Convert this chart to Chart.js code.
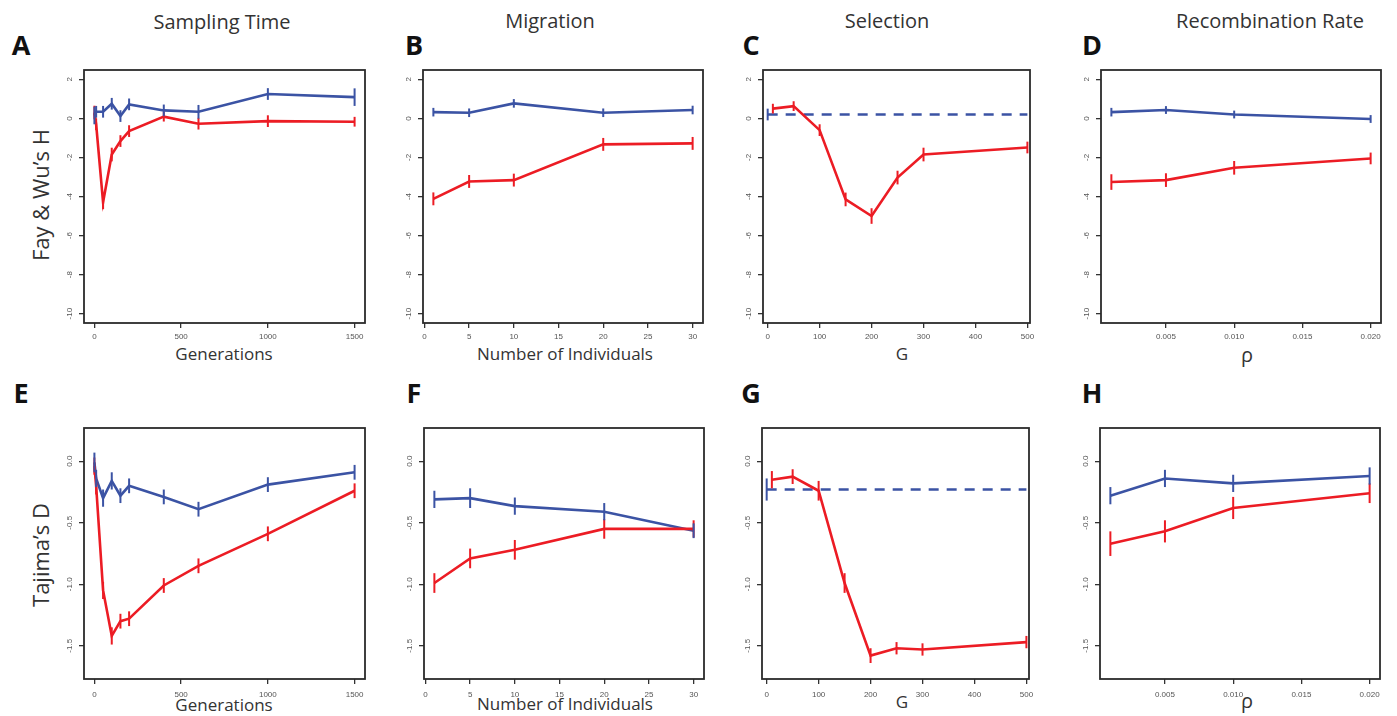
<!DOCTYPE html>
<html><head><meta charset="utf-8">
<script src="https://cdn.jsdelivr.net/npm/chart.js@4.4.0/dist/chart.umd.min.js"></script>
<style>
html,body{margin:0;padding:0;background:#fff;width:1397px;height:716px;overflow:hidden;position:relative;font-family:'Open Sans',sans-serif}
canvas{position:absolute}
.t{position:absolute;white-space:nowrap;color:#333;transform:translate(-50%,-50%);line-height:1}
.hdr{font-size:20px}
.let{font-size:27px;font-weight:700;color:#111}
.row{font-size:22px;transform:translate(-50%,-50%) rotate(-90deg)}
.xl{font-size:17px}
.rho{font-size:20px}
</style></head><body>
<div class="t hdr" style="left:222px;top:22px">Sampling Time</div>
<div class="t hdr" style="left:550px;top:21px">Migration</div>
<div class="t hdr" style="left:887px;top:21px">Selection</div>
<div class="t hdr" style="left:1270px;top:21px">Recombination Rate</div>
<div class="t let" style="left:21px;top:44px">A</div>
<div class="t let" style="left:414px;top:44px">B</div>
<div class="t let" style="left:751px;top:44px">C</div>
<div class="t let" style="left:1092px;top:44px">D</div>
<div class="t let" style="left:21px;top:392px">E</div>
<div class="t let" style="left:414px;top:392px">F</div>
<div class="t let" style="left:751px;top:392px">G</div>
<div class="t let" style="left:1092px;top:392px">H</div>
<div class="t row" style="left:40px;top:195px">Fay &amp; Wu’s H</div>
<div class="t row" style="left:40px;top:555px">Tajima’s D</div>
<div class="t xl" style="left:224px;top:353px">Generations</div>
<div class="t xl" style="left:565px;top:353px">Number of Individuals</div>
<div class="t xl" style="left:902px;top:353px">G</div>
<div class="t rho" style="left:1247px;top:355px">ρ</div>
<div class="t xl" style="left:224px;top:704px">Generations</div>
<div class="t xl" style="left:565px;top:703px">Number of Individuals</div>
<div class="t xl" style="left:902px;top:701px">G</div>
<div class="t rho" style="left:1247px;top:701px">ρ</div>
<script>
// ---------- categories (x values) ----------
const genX = [0, 10, 50, 100, 150, 200, 400, 600, 1000, 1500];
const indX = [1, 5, 10, 20, 30];
const selX = [10, 50, 100, 150, 200, 250, 300, 500];
const selBaseX = [0, 500];
const rhoX = [0.001, 0.005, 0.010, 0.020];

// ---------- tick labels ----------
const genTicks = [0, 500, 1000, 1500];
const indTicks = [0, 5, 10, 15, 20, 25, 30];
const selTicks = [0, 100, 200, 300, 400, 500];
const rhoTicks = [0.005, 0.010, 0.015, 0.020];
const fwTicks = [-10, -8, -6, -4, -2, 0, 2];
const tdTicks = [-1.5, -1.0, -0.5, 0.0];

// ---------- Fay & Wu's H ----------
const A_blue = [0.15, 0.34, 0.34, 0.75, 0.12, 0.72, 0.41, 0.34, 1.25, 1.09];
const A_blueErr = [0.45, 0.3, 0.3, 0.3, 0.3, 0.3, 0.3, 0.35, 0.3, 0.45];
const A_red = [0.3, -0.3, -4.3, -1.85, -1.16, -0.65, 0.09, -0.27, -0.14, -0.17];
const A_redErr = [0.35, 0.3, 0.35, 0.35, 0.3, 0.3, 0.25, 0.3, 0.3, 0.25];

const B_blue = [0.32, 0.29, 0.77, 0.29, 0.43];
const B_blueErr = [0.22, 0.22, 0.22, 0.22, 0.22];
const B_red = [-4.12, -3.23, -3.16, -1.33, -1.28];
const B_redErr = [0.33, 0.33, 0.33, 0.33, 0.33];

const C_blue = [0.2, 0.2];
const C_blueErr = [0.3, null];
const C_red = [0.5, 0.63, -0.6, -4.15, -5.0, -3.03, -1.85, -1.49];
const C_redErr = [0.25, 0.25, 0.3, 0.35, 0.4, 0.35, 0.35, 0.3];

const D_blue = [0.32, 0.43, 0.2, -0.03];
const D_blueErr = [0.22, 0.2, 0.2, 0.2];
const D_red = [-3.26, -3.16, -2.53, -2.05];
const D_redErr = [0.4, 0.35, 0.35, 0.3];

// ---------- Tajima's D ----------
const E_blue = [-0.01, -0.14, -0.30, -0.16, -0.28, -0.20, -0.29, -0.39, -0.19, -0.09];
const E_blueErr = [0.08, 0.07, 0.07, 0.07, 0.06, 0.06, 0.06, 0.06, 0.06, 0.06];
const E_red = [-0.04, -0.2, -1.05, -1.42, -1.30, -1.28, -1.01, -0.85, -0.59, -0.24];
const E_redErr = [0.07, 0.07, 0.07, 0.07, 0.06, 0.06, 0.06, 0.06, 0.06, 0.06];

const F_blue = [-0.31, -0.30, -0.365, -0.41, -0.565];
const F_blueErr = [0.07, 0.08, 0.07, 0.07, 0.06];
const F_red = [-0.99, -0.79, -0.72, -0.55, -0.55];
const F_redErr = [0.08, 0.08, 0.08, 0.08, 0.07];

const G_blue = [-0.23, -0.23];
const G_blueErr = [0.09, null];
const G_red = [-0.15, -0.125, -0.24, -0.99, -1.58, -1.52, -1.53, -1.47];
const G_redErr = [0.07, 0.06, 0.08, 0.08, 0.06, 0.05, 0.05, 0.05];

const H_blue = [-0.28, -0.14, -0.18, -0.12];
const H_blueErr = [0.07, 0.07, 0.07, 0.07];
const H_red = [-0.67, -0.57, -0.38, -0.26];
const H_redErr = [0.1, 0.09, 0.09, 0.08];

// ---------- styling ----------
const RED = '#ec1c24', BLUE = '#3b53a4';
const tickFont = {family: "'Liberation Sans', Arial, sans-serif", size: 8};

const boxPlugin = {
  id: 'boxErr',
  afterDatasetsDraw(chart) {
    const {ctx, scales: {x, y}} = chart;
    ctx.save();
    chart.data.datasets.forEach(ds => {
      if (!ds.errors) return;
      ctx.strokeStyle = ds.borderColor; ctx.lineWidth = 2; ctx.setLineDash([]);
      ds.data.forEach((p, j) => {
        const e = ds.errors[j]; if (e == null) return;
        const px = x.getPixelForValue(p.x);
        ctx.beginPath();
        ctx.moveTo(px, y.getPixelForValue(p.y - e));
        ctx.lineTo(px, y.getPixelForValue(p.y + e));
        ctx.stroke();
      });
    });
    ctx.restore();
  },
  afterDraw(chart) {
    const {ctx, chartArea: a} = chart;
    ctx.save(); ctx.strokeStyle = '#2b2b2b'; ctx.lineWidth = 1.8;
    ctx.strokeRect(a.left, a.top, a.right - a.left, a.bottom - a.top);
    ctx.restore();
  }
};

function series(xs, ys, errs, color, dashed) {
  return {
    data: xs.map((v, i) => ({x: v, y: ys[i]})),
    errors: errs, borderColor: color, backgroundColor: color,
    borderWidth: 2.6, pointRadius: 0, tension: 0, fill: false,
    borderDash: dashed ? [10, 8] : []
  };
}

function panel(box, xr, xTicks, xFmt, yr, yTicks, yFmt, datasets, xPad, yPad) {
  const padL = 40, padT = 8, padR = 14, axH = 34;
  const c = document.createElement('canvas');
  const w = box.r - box.l + padL + padR, h = box.b - box.t + padT + axH;
  c.width = w; c.height = h;
  c.style.left = (box.l - padL) + 'px'; c.style.top = (box.t - padT) + 'px';
  c.style.width = w + 'px'; c.style.height = h + 'px';
  document.body.appendChild(c);
  const grid = {display: true, drawOnChartArea: false, drawTicks: true, tickLength: 5, color: '#333', lineWidth: 1.3};
  new Chart(c, {
    type: 'line',
    data: {datasets},
    options: {
      responsive: false, animation: false, devicePixelRatio: 1,
      layout: {padding: {left: 0, top: padT, right: padR, bottom: 0}},
      plugins: {legend: {display: false}, tooltip: {enabled: false}},
      scales: {
        x: {
          type: 'linear', min: xr[0], max: xr[1],
          afterBuildTicks: s => { s.ticks = xTicks.map(v => ({value: v})); },
          afterFit: s => { s.height = axH; s.paddingLeft = 0; s.paddingRight = 0; },
          ticks: {callback: xFmt, font: tickFont, color: '#555', padding: xPad, maxRotation: 0, autoSkip: false},
          grid, border: {display: false}
        },
        y: {
          type: 'linear', min: yr[0], max: yr[1],
          afterBuildTicks: s => { s.ticks = yTicks.map(v => ({value: v})); },
          afterFit: s => { s.width = padL; s.paddingTop = 0; s.paddingBottom = 0; },
          ticks: {callback: yFmt, font: tickFont, color: '#555', padding: yPad, minRotation: 90, maxRotation: 90, crossAlign: 'center', autoSkip: false},
          grid, border: {display: false}
        }
      }
    },
    plugins: [boxPlugin]
  });
}

const fInt = v => String(v);
const f1 = v => v.toFixed(1);
const f3 = v => v.toFixed(3);
const fwR = [-10.48, 2.48], tdR = [-1.77, 0.27];
const genR = [-60, 1560], indR = [-0.16, 31.16], selR = [-9, 505], rhoR = [0.00024, 0.02076];

panel({l: 84, t: 70, r: 365, b: 323}, genR, genTicks, fInt, fwR, fwTicks, fInt,
  [series(genX, A_red, A_redErr, RED), series(genX, A_blue, A_blueErr, BLUE)], 4, 3);
panel({l: 423, t: 70, r: 703, b: 323}, indR, indTicks, fInt, fwR, fwTicks, fInt,
  [series(indX, B_red, B_redErr, RED), series(indX, B_blue, B_blueErr, BLUE)], 4, 3);
panel({l: 763, t: 70, r: 1030, b: 323}, selR, selTicks, fInt, fwR, fwTicks, fInt,
  [series(selX, C_red, C_redErr, RED), series(selBaseX, C_blue, C_blueErr, BLUE, true)], 4, 3);
panel({l: 1101, t: 70, r: 1381, b: 323}, rhoR, rhoTicks, f3, fwR, fwTicks, fInt,
  [series(rhoX, D_red, D_redErr, RED), series(rhoX, D_blue, D_blueErr, BLUE)], 4, 3);

panel({l: 84, t: 428, r: 365, b: 679}, genR, genTicks, fInt, tdR, tdTicks, f1,
  [series(genX, E_red, E_redErr, RED), series(genX, E_blue, E_blueErr, BLUE)], 6, 2);
panel({l: 424, t: 428, r: 704, b: 679}, indR, indTicks, fInt, tdR, tdTicks, f1,
  [series(indX, F_red, F_redErr, RED), series(indX, F_blue, F_blueErr, BLUE)], 6, 2);
panel({l: 762, t: 428, r: 1029, b: 679}, selR, selTicks, fInt, tdR, tdTicks, f1,
  [series(selX, G_red, G_redErr, RED), series(selBaseX, G_blue, G_blueErr, BLUE, true)], 6, 2);
panel({l: 1100, t: 428, r: 1380, b: 679}, rhoR, rhoTicks, f3, tdR, tdTicks, f1,
  [series(rhoX, H_red, H_redErr, RED), series(rhoX, H_blue, H_blueErr, BLUE)], 6, 2);
</script>
</body></html>
